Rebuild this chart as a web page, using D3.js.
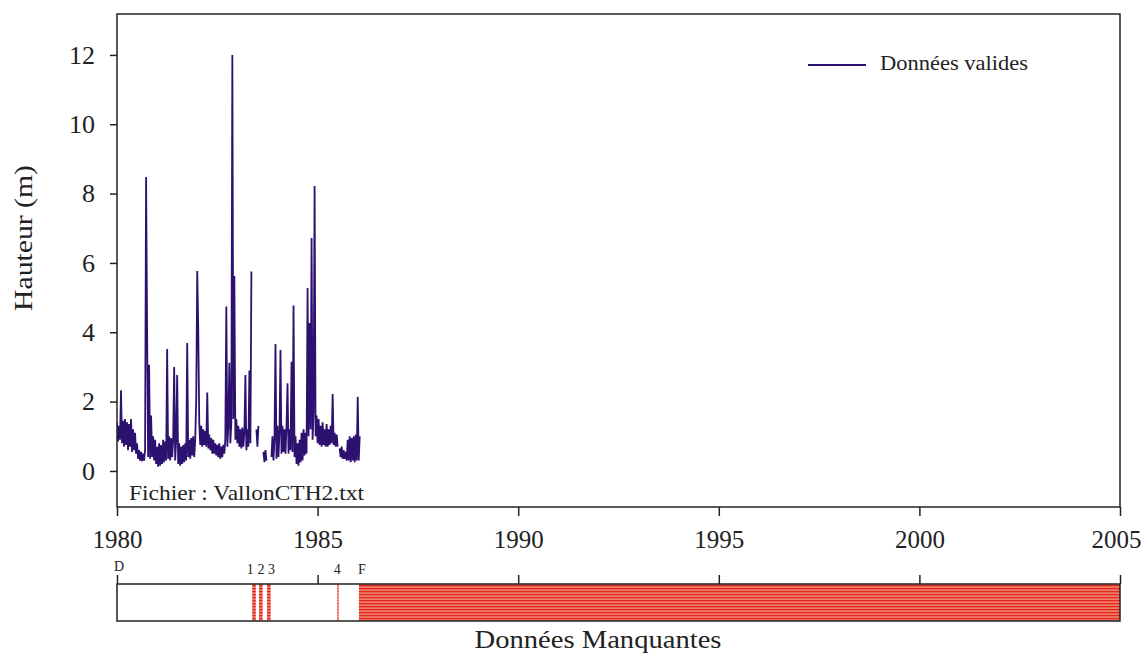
<!DOCTYPE html>
<html>
<head>
<meta charset="utf-8">
<script src="https://cdn.jsdelivr.net/npm/d3@7"></script>
<style>
  html, body { margin: 0; padding: 0; background: #fff; }
  svg { display: block; }
  text { font-family: "Liberation Serif", "DejaVu Serif", serif; fill: #222; }
</style>
</head>
<body>
<svg id="chart" width="1144" height="654"></svg>
<script>
// ---- Data ----
const startYear = 1980.0;
const stepYears = 0.025;   // sampling step of the record (years)
// Heights (m) at each sample; null = no valid data
const heights = [
  1.4, 0.85, 1.3, 0.9, 2.33, 0.8, 1.45, 0.7, 1.5, 0.75,
  1.4, 0.6, 1.35, 0.7, 1.5, 0.55, 1.2, 0.6, 1.1, 0.5,
  0.8, 0.35, 0.6, 0.3, 0.55, 0.28, 0.5, 0.3, 0.6, 8.48,
  4.1, 0.4, 3.06, 0.35, 1.6, 0.4, 1.0, 0.3, 0.9, 0.2,
  0.7, 0.12, 0.8, 0.15, 0.75, 0.2, 0.9, 0.25, 0.85, 0.3,
  3.52, 0.35, 1.0, 0.3, 0.95, 0.4, 0.9, 3.0, 0.3, 0.9,
  2.77, 0.2, 0.8, 0.15, 0.7, 0.2, 0.75, 0.25, 0.8, 0.3,
  3.69, 0.4, 0.9, 0.35, 0.95, 0.45, 1.0, 0.4, 0.9, 2.1,
  5.77, 4.1, 1.4, 0.75, 1.3, 0.7, 1.2, 0.75, 1.15, 0.7,
  2.26, 0.65, 1.05, 0.6, 0.95, 0.5, 0.9, 0.5, 0.8, 0.45,
  0.75, 0.4, 0.8, 0.35, 0.7, 0.4, 0.75, 0.5, 0.9, 4.74,
  0.7, 1.3, 3.12, 0.8, 1.4, 12.0, 1.5, 5.62, 0.9, 1.5,
  0.8, 1.3, 0.7, 1.2, 0.65, 1.25, 0.7, 1.1, 2.77, 0.6,
  1.2, 0.7, 2.9, 0.8, 5.75, null, null, null, null, 1.2,
  0.7, 1.3, null, null, null, null, 0.55, 0.25, 0.6, 0.3,
  null, null, null, null, 0.4, 1.0, 0.3, 0.9, 3.66, 0.35,
  1.3, 0.4, 1.1, 3.49, 0.5, 1.3, 0.55, 1.2, 0.5, 1.3,
  2.53, 0.5, 1.2, 0.6, 3.15, 0.55, 4.77, 0.4, 1.0, 0.2,
  0.8, 0.15, 0.9, 0.25, 1.1, 0.3, 1.2, 0.45, 1.1, 0.5,
  5.28, 1.0, 4.27, 1.2, 6.72, 0.9, 1.7, 8.22, 1.0, 1.6,
  0.8, 1.5, 0.75, 1.3, 0.7, 1.4, 0.75, 1.2, 0.7, 1.35,
  0.7, 1.2, 0.75, 1.3, 0.8, 2.22, 0.75, 1.1, 0.7, 1.05,
  0.7, null, 0.65, 0.4, 0.7, 0.35, 0.6, 0.35, 0.55, 0.3,
  0.9, 0.3, 1.0, 0.25, 0.95, 0.3, 1.0, 0.25, 1.05, 0.3,
  2.14, 0.3, 1.0
];
// Missing-data periods (decimal years) and their labels
const gapStarts = [1983.37, 1983.54, 1983.74, 1985.49, 1986.03];
const gapEnds   = [1983.46, 1983.63, 1983.83, 1985.52, 2005.0];
const gapLabels = ["1", "2", "3", "4", "F"];
const startLabel = "D";
const xTicks = [1980, 1985, 1990, 1995, 2000, 2005];
const yTicks = [0, 2, 4, 6, 8, 10, 12];
const seriesName = "Données valides";
const fileLabel = "Fichier : VallonCTH2.txt";
const yTitle = "Hauteur (m)";
const bottomTitle = "Données Manquantes";

// ---- Drawing ----
const svg = d3.select("#chart");
const L = 117, R = 1120, T = 14, B = 507;
const barT = 584, barB = 621;
const lineColor = "#2c1170";
const labelNudge = [-2, 2, 4.5, 0, 3];

const x = d3.scaleLinear().domain([1980, 2005]).range([L, R]);
const y = d3.scaleLinear().domain([-1.04, 13.18]).range([B, T]);

const defs = svg.append("defs");
const pat = defs.append("pattern").attr("id", "stripes")
  .attr("patternUnits", "userSpaceOnUse").attr("width", 8).attr("height", 3);
pat.append("rect").attr("width", 8).attr("height", 3).attr("fill", "#ee7d6e");
pat.append("rect").attr("width", 8).attr("height", 1.3).attr("fill", "#e5261a");
defs.append("clipPath").attr("id", "plotclip").append("rect")
  .attr("x", L).attr("y", T).attr("width", R - L).attr("height", B - T);

// series
const pts = heights.map((v, i) => ({ t: startYear + i * stepYears, v }));
const line = d3.line().defined(d => d.v !== null).x(d => x(d.t)).y(d => y(d.v));
svg.append("path").datum(pts).attr("d", line)
  .attr("fill", "none").attr("stroke", lineColor).attr("stroke-width", 1.8)
  .attr("stroke-linejoin", "miter").attr("clip-path", "url(#plotclip)");

// frame
svg.append("rect").attr("x", L).attr("y", T).attr("width", R - L).attr("height", B - T)
  .attr("fill", "none").attr("stroke", "#222").attr("stroke-width", 1.5);

// y axis
const ya = svg.append("g").attr("transform", `translate(${L},0)`)
  .call(d3.axisLeft(y).tickValues(yTicks).tickSize(7).tickPadding(15).tickSizeOuter(0));
ya.select(".domain").remove();
ya.selectAll("line").attr("stroke", "#222").attr("stroke-width", 1.5);
ya.selectAll("text").style("font-size", "26px").attr("fill", "#222");

// x axis
const xa = svg.append("g").attr("transform", `translate(0,${B})`)
  .call(d3.axisBottom(x).tickValues(xTicks).tickFormat(d3.format("d")).tickSize(9).tickPadding(14).tickSizeOuter(0));
xa.select(".domain").remove();
xa.selectAll("line").attr("stroke", "#222").attr("stroke-width", 1.5);
xa.selectAll("text").style("font-size", "25px").attr("fill", "#222")
  .attr("dx", (d, i, n) => i === n.length - 1 ? -4 : 0);

// legend
svg.append("line").attr("x1", 808).attr("x2", 866).attr("y1", 65).attr("y2", 65)
  .attr("stroke", lineColor).attr("stroke-width", 2);
svg.append("text").attr("x", 880).attr("y", 70).style("font-size", "21px")
  .attr("textLength", 148).attr("lengthAdjust", "spacingAndGlyphs").text(seriesName);

// file label
svg.append("text").attr("x", 129).attr("y", 500).style("font-size", "22px")
  .attr("textLength", 235).attr("lengthAdjust", "spacingAndGlyphs").text(fileLabel);

// y title
svg.append("text").attr("transform", "translate(32,238) rotate(-90)")
  .attr("text-anchor", "middle").style("font-size", "25px")
  .attr("textLength", 146).attr("lengthAdjust", "spacingAndGlyphs").text(yTitle);

// missing data bar
svg.selectAll("rect.gap").data(gapStarts).join("rect").attr("class", "gap")
  .attr("x", (d) => x(d)).attr("y", barT)
  .attr("width", (d, i) => Math.max(1.4, x(gapEnds[i]) - x(d)))
  .attr("height", barB - barT).attr("fill", "url(#stripes)");
svg.append("rect").attr("x", L).attr("y", barT).attr("width", R - L).attr("height", barB - barT)
  .attr("fill", "none").attr("stroke", "#222").attr("stroke-width", 1.5);
const ba = svg.append("g").attr("transform", `translate(0,${barT})`)
  .call(d3.axisTop(x).tickValues(xTicks).tickFormat("").tickSize(9).tickSizeOuter(0));
ba.select(".domain").remove();
ba.selectAll("line").attr("stroke", "#222").attr("stroke-width", 1.5);

// gap labels
svg.append("text").attr("x", x(1980) + 2).attr("y", 571).attr("text-anchor", "middle")
  .style("font-size", "14px").text(startLabel);
svg.selectAll("text.gl").data(gapStarts).join("text").attr("class", "gl")
  .attr("x", (d, i) => x(d) + labelNudge[i]).attr("y", 574).attr("text-anchor", "middle")
  .style("font-size", "14px").text((d, i) => gapLabels[i]);

svg.append("text").attr("x", 598).attr("y", 648).attr("text-anchor", "middle")
  .style("font-size", "25px").attr("textLength", 247).attr("lengthAdjust", "spacingAndGlyphs")
  .text(bottomTitle);
</script>
</body>
</html>
